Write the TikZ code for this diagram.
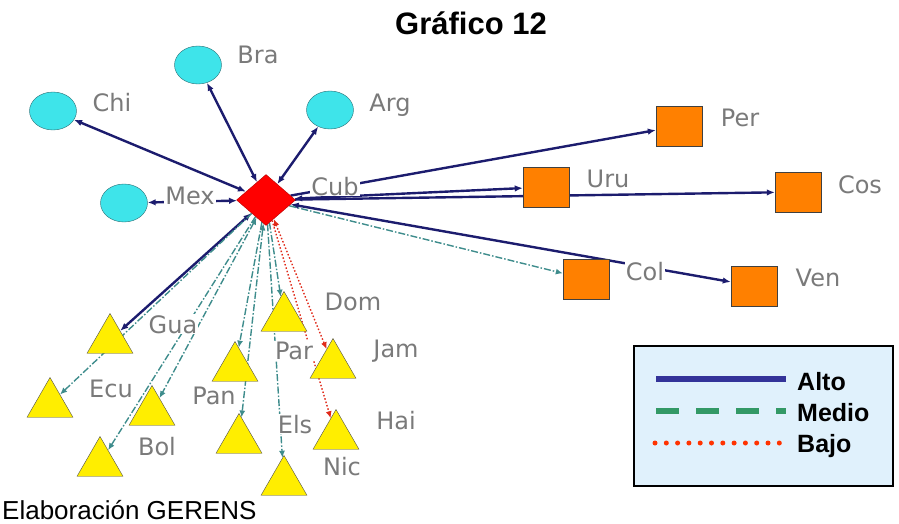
\documentclass[tikz,border=0pt]{standalone}
\usepackage{fontspec}
\setmainfont{Liberation Sans}
\newfontfamily\lblfont{DejaVu Sans}
\usepackage{tikz}
\usetikzlibrary{calc,positioning,arrows,arrows.meta,shapes,backgrounds}

\definecolor{colAlto}{HTML}{1C1C6E}
\definecolor{colMedio}{HTML}{3E8C8C}
\definecolor{colBajo}{HTML}{E02A1A}
\definecolor{circfill}{HTML}{3EE4EA}
\definecolor{circline}{HTML}{2A6E74}
\definecolor{trifill}{HTML}{FFEE00}
\definecolor{sqfill}{HTML}{FF8000}
\definecolor{lblgray}{HTML}{7A7A7A}
\definecolor{legfill}{HTML}{E0F1FC}

\begin{document}
\begin{tikzpicture}[x=1pt, y=-1pt]
  \useasboundingbox (0,0) rectangle (899,524);

  % ---- Styles ----------------------------------------------------
  \tikzstyle{circulo}=[ellipse, draw=circline, fill=circfill,
                       minimum width=47pt, minimum height=38pt, inner sep=0pt]
  \tikzstyle{rombo}=[diamond, draw=red!70!black, fill=red,
                     minimum width=59pt, minimum height=51pt, inner sep=0pt]
  \tikzstyle{triang}=[regular polygon, regular polygon sides=3,
                      draw=black!70, fill=trifill, minimum size=53pt, inner sep=0pt]
  \tikzstyle{cuadro}=[rectangle, draw=black!75, fill=sqfill,
                      minimum width=46pt, minimum height=40pt, inner sep=0pt]
  \tikzstyle{etiq}=[anchor=base, fill=white, inner sep=1pt, text=lblgray,
                    font=\lblfont\fontsize{24}{24}\selectfont]
  \tikzstyle{lalto}=[colAlto, line width=2.4pt, >={Latex[length=8pt,width=6.5pt]}]
  \tikzstyle{lmedio}=[colMedio, line width=1.4pt, >={Latex[length=7pt,width=6pt]},
                      dash pattern=on 7pt off 2pt on 1.5pt off 2pt]
  \tikzstyle{lbajo}=[colBajo, line width=1.4pt, >={Latex[length=7pt,width=6pt]},
                     dash pattern=on 1.5pt off 2pt]

  % ---- Title -----------------------------------------------------
  \node[anchor=base, font=\bfseries\fontsize{31}{31}\selectfont] (titulo)
    at (471,35) {Gráfico 12};

  % ---- Centre ----------------------------------------------------
  \node[rombo] (cub) at (266,200) {};

  % ---- Circles ---------------------------------------------------
  \node[circulo] (bra) at (198,65)  {};
  \node[circulo] (chi) at (53,111)  {};
  \node[circulo] (arg) at (330,110) {};
  \node[circulo] (mex) at (124,203) {};

  % ---- Squares ---------------------------------------------------
  \node[cuadro] (per) at (679,126) {};
  \node[cuadro] (uru) at (546,187) {};
  \node[cuadro] (cos) at (798,192) {};
  \node[cuadro] (col) at (586,279) {};
  \node[cuadro] (ven) at (754,286) {};

  % ---- Triangles (centre of the polygon, not of the box) ---------
  \node[triang] (gua) at (110,340) {};
  \node[triang] (ecu) at (50,404)  {};
  \node[triang] (pan) at (152,412) {};
  \node[triang] (bol) at (100,463) {};
  \node[triang] (par) at (235,368) {};
  \node[triang] (els) at (239,440) {};
  \node[triang] (dom) at (284,318) {};
  \node[triang] (jam) at (333,365) {};
  \node[triang] (hai) at (336,436) {};
  \node[triang] (nic) at (284,482) {};

  % ---- Links (behind the nodes) ----------------------------------
  \begin{scope}[on background layer]
    \draw[lalto, <->] (cub) -- (chi);
    \draw[lalto, <->] (cub) -- (bra);
    \draw[lalto, <->] (cub) -- (arg);
    \draw[lalto, <->] (cub) -- (mex);
    \draw[lalto, <->] (cub) -- (gua);
    \draw[lalto, ->]  (cub) -- (per);
    \draw[lalto, <->] (cub) -- (uru);
    \draw[lalto, ->]  (cub) -- (cos);
    \draw[lalto, <->] (cub) -- (ven);

    \draw[lmedio, ->]  (cub) -- (col);
    \draw[lmedio, ->]  (cub) -- (ecu);
    \draw[lmedio, <->] (cub) -- (pan);
    \draw[lmedio, ->]  (cub) -- (bol);
    \draw[lmedio, ->]  (cub) -- (par);
    \draw[lmedio, <->] (cub) -- (els);
    \draw[lmedio, ->]  (cub) -- (dom);
    \draw[lmedio, ->]  (cub) -- (nic);

    \draw[lbajo, <->] (cub) -- (jam);
    \draw[lbajo, ->]  (cub) -- (hai);
  \end{scope}

  % ---- Labels ----------------------------------------------------
  \node[etiq] (lbra) at (258,64)  {Bra};
  \node[etiq] (lchi) at (112,112) {Chi};
  \node[etiq] (larg) at (390,112) {Arg};
  \node[etiq] (lmex) at (190,204) {Mex};
  \node[etiq] (lcub) at (335,195) {Cub};
  \node[etiq] (lper) at (740,127) {Per};
  \node[etiq] (luru) at (608,187) {Uru};
  \node[etiq] (lcos) at (860,193) {Cos};
  \node[etiq] (lcol) at (645,280) {Col};
  \node[etiq] (lven) at (818,286) {Ven};
  \node[etiq] (lgua) at (173,333) {Gua};
  \node[etiq] (lecu) at (111,397) {Ecu};
  \node[etiq] (lbol) at (157,455) {Bol};
  \node[etiq] (lpan) at (214,404) {Pan};
  \node[etiq] (lpar) at (294,359) {Par};
  \node[etiq] (lels) at (295,433) {Els};
  \node[etiq] (ldom) at (353,310) {Dom};
  \node[etiq] (ljam) at (396,357) {Jam};
  \node[etiq] (lhai) at (396,429) {Hai};
  \node[etiq] (lnic) at (342,475) {Nic};

  % ---- Legend ----------------------------------------------------
  \draw[line width=1.5pt, fill=legfill] (634,346) rectangle (893,486);
  \coordinate (a1) at (656,379);  \coordinate (a2) at (786,379);
  \coordinate (m1) at (656,411);  \coordinate (m2) at (786,411);
  \coordinate (b1) at (655,443);  \coordinate (b2) at (786,443);
  \draw[color={rgb,255:red,51;green,51;blue,153}, line width=6pt] (a1) -- (a2);
  \draw[color={rgb,255:red,51;green,153;blue,102}, line width=6pt,
        dash pattern=on 23pt off 17pt] (m1) -- (m2);
  \draw[color={rgb,255:red,255;green,51;blue,0}, line width=5pt, line cap=round,
        dash pattern=on 0pt off 11.3pt] (b1) -- (b2);
  \node[anchor=base west, font=\bfseries\fontsize{25}{25}\selectfont, inner sep=0pt]
    (alto) at (797,390) {Alto};
  \node[anchor=base west, font=\bfseries\fontsize{25}{25}\selectfont, inner sep=0pt]
    (medio) at (797,421) {Medio};
  \node[anchor=base west, font=\bfseries\fontsize{25}{25}\selectfont, inner sep=0pt]
    (bajo) at (797,452) {Bajo};

  % ---- Source ----------------------------------------------------
  \node[anchor=base west, font=\fontsize{26}{26}\selectfont, inner sep=0pt]
    (fuente) at (2,519) {Elaboración GERENS};
\end{tikzpicture}
\end{document}
